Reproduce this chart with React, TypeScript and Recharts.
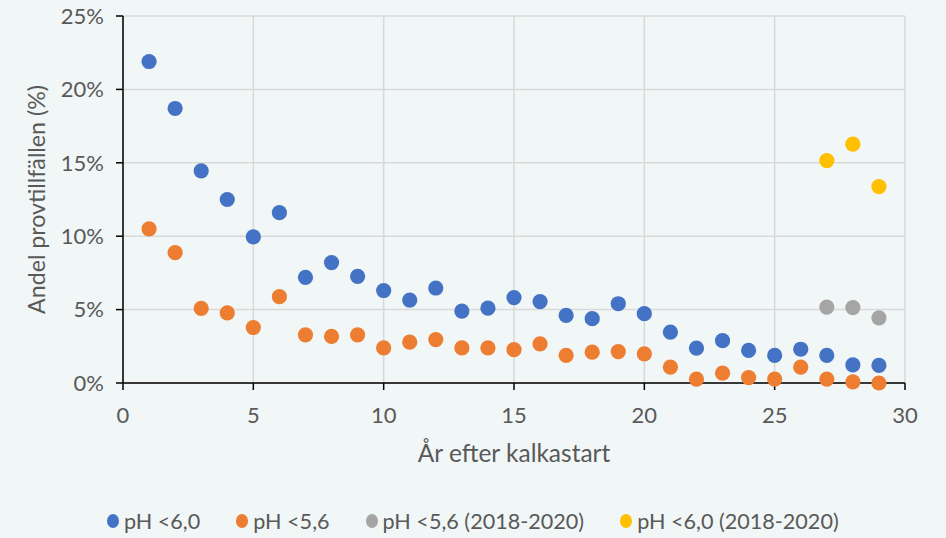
import { ScatterChart, Scatter, XAxis, YAxis, CartesianGrid } from 'recharts';

const years = [1, 2, 3, 4, 5, 6, 7, 8, 9, 10, 11, 12, 13, 14, 15, 16, 17, 18, 19, 20, 21, 22, 23, 24, 25, 26, 27, 28, 29];
const ph60 = [21.9, 18.7, 14.45, 12.5, 9.95, 11.6, 7.2, 8.2, 7.27, 6.3, 5.65, 6.47, 4.9, 5.1, 5.82, 5.55, 4.6, 4.38, 5.4, 4.72, 3.46, 2.37, 2.88, 2.22, 1.88, 2.3, 1.88, 1.24, 1.2];
const ph56 = [10.5, 8.88, 5.08, 4.78, 3.78, 5.88, 3.28, 3.17, 3.28, 2.39, 2.78, 2.96, 2.39, 2.39, 2.27, 2.67, 1.88, 2.1, 2.14, 1.99, 1.08, 0.27, 0.67, 0.37, 0.27, 1.08, 0.27, 0.07, 0.0];
const recentYears = [27, 28, 29];
const ph56Recent = [5.17, 5.14, 4.44];
const ph60Recent = [15.15, 16.27, 13.38];

const xTicks = [0, 5, 10, 15, 20, 25, 30];
const yTicks = [0, 5, 10, 15, 20, 25];

const toPoints = (xs: number[], ys: number[]) => xs.map((x, i) => ({ x, y: ys[i] }));

const series = [
  { name: 'pH <6,0', color: '#4472C4', data: toPoints(years, ph60) },
  { name: 'pH <5,6', color: '#ED7D31', data: toPoints(years, ph56) },
  { name: 'pH <5,6 (2018-2020)', color: '#A5A5A5', data: toPoints(recentYears, ph56Recent) },
  { name: 'pH <6,0 (2018-2020)', color: '#FFC000', data: toPoints(recentYears, ph60Recent) },
];

const font = 'Lato, "Open Sans", sans-serif';
const textColor = '#595959';

const dot = (color: string) => (props: any) => <circle cx={props.cx} cy={props.cy} r={7.6} fill={color} />;

export default function App() {
  return (
    <div style={{ position: 'absolute', left: 0, top: 0, width: 946, height: 538, background: '#F1F6F6', fontFamily: font }}>
      <ScatterChart width={946} height={473} margin={{ top: 16, right: 41, left: 0, bottom: 0 }}>
        <CartesianGrid stroke="#D9D9D9" strokeWidth={1.5} />
        <XAxis
          type="number"
          dataKey="x"
          domain={[0, 30]}
          ticks={xTicks}
          height={90}
          tickSize={7}
          tickMargin={17}
          axisLine={{ stroke: '#000', strokeWidth: 1.5 }}
          tickLine={{ stroke: '#000', strokeWidth: 1.5 }}
          tick={{ fill: textColor, fontSize: 22, fontFamily: font }}
          label={{ value: 'År efter kalkastart', position: 'insideBottom', offset: 11, fill: textColor, fontSize: 24.5, fontFamily: font }}
        />
        <YAxis
          type="number"
          dataKey="y"
          domain={[0, 25]}
          ticks={yTicks}
          width={123}
          tickSize={7}
          tickMargin={12}
          tickFormatter={(v: number) => `${v}%`}
          axisLine={{ stroke: '#000', strokeWidth: 1.5 }}
          tickLine={{ stroke: '#000', strokeWidth: 1.5 }}
          tick={{ fill: textColor, fontSize: 22, fontFamily: font }}
          label={{ value: 'Andel provtillfällen (%)', angle: -90, position: 'insideLeft', offset: 37, fill: textColor, fontSize: 23.2, fontFamily: font, style: { textAnchor: 'middle' } }}
        />
        {series.map((s) => (
          <Scatter key={s.name} name={s.name} data={s.data} fill={s.color} shape={dot(s.color)} isAnimationActive={false} />
        ))}
      </ScatterChart>
      <div style={{ position: 'absolute', left: 107, top: 506, display: 'flex', gap: 36, color: textColor, fontSize: 21.6, lineHeight: '30px' }}>
        {series.map((s) => (
          <div key={s.name} style={{ display: 'flex', alignItems: 'center', gap: 5 }}>
            <span style={{ width: 12, height: 14, borderRadius: '50%', background: s.color, display: 'inline-block' }} />
            <span>{s.name}</span>
          </div>
        ))}
      </div>
    </div>
  );
}
